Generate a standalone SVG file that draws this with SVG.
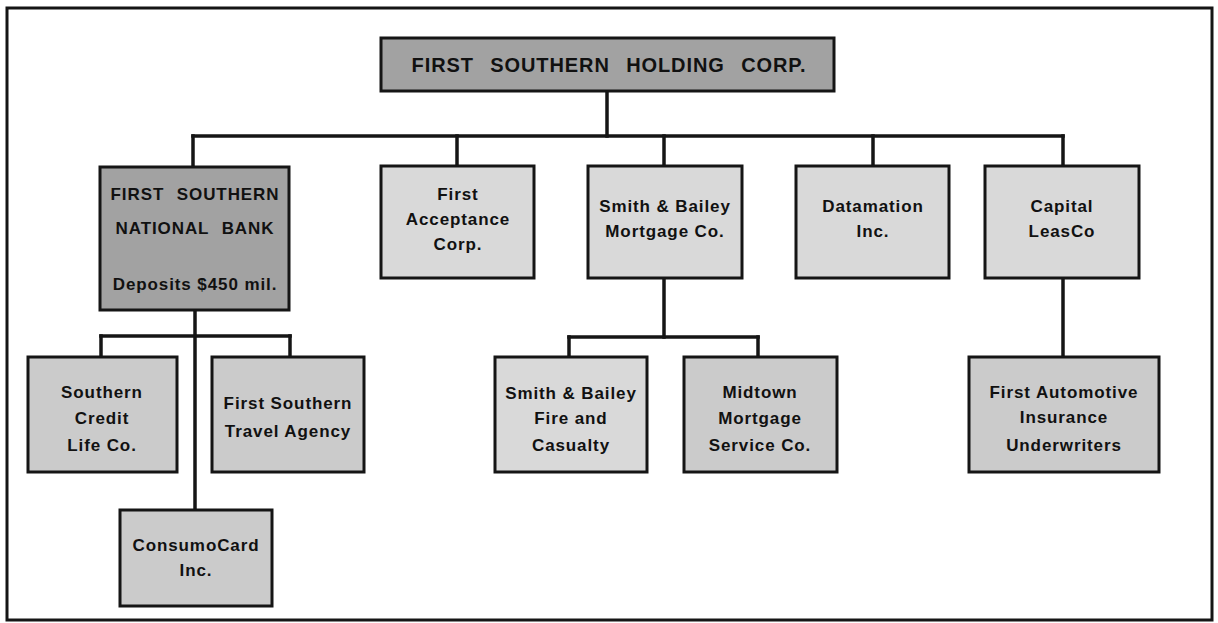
<svg xmlns="http://www.w3.org/2000/svg" width="1218" height="623" viewBox="0 0 1218 623">
<style>
.box{stroke:#151515;stroke-width:3}
.dark{fill:#a2a2a2}
.mid{fill:#cbcbcb}
.light{fill:#d9d9d9}
text{font-family:"Liberation Sans",Arial,sans-serif;font-weight:bold;font-size:17px;fill:#111111;text-anchor:middle;letter-spacing:0.9px}
.title{font-size:20px;letter-spacing:0.9px;word-spacing:10px}
.caps{word-spacing:7px}
.conn line{stroke:#151515;stroke-width:3.5;stroke-linecap:square}
</style>
<rect x="0" y="0" width="1218" height="623" fill="#ffffff"/>
<rect x="7" y="8" width="1205" height="612" fill="none" stroke="#151515" stroke-width="3"/>
<g id="connectors" class="conn">
<line x1="607" y1="91" x2="607" y2="136"/>
<line x1="193" y1="136" x2="1063" y2="136"/>
<line x1="193" y1="136" x2="193" y2="166"/>
<line x1="457" y1="136" x2="457" y2="166"/>
<line x1="664" y1="136" x2="664" y2="166"/>
<line x1="873" y1="136" x2="873" y2="166"/>
<line x1="1063" y1="136" x2="1063" y2="166"/>
<line x1="195" y1="310" x2="195" y2="510"/>
<line x1="101" y1="336" x2="290" y2="336"/>
<line x1="101" y1="336" x2="101" y2="357"/>
<line x1="290" y1="336" x2="290" y2="357"/>
<line x1="664" y1="278" x2="664" y2="337"/>
<line x1="569" y1="337" x2="758" y2="337"/>
<line x1="569" y1="337" x2="569" y2="357"/>
<line x1="758" y1="337" x2="758" y2="357"/>
<line x1="1063" y1="278" x2="1063" y2="357"/>
</g>
<g id="holding">
<rect class="box dark" x="381" y="38" width="453" height="53"/>
<text class="title" x="609" y="72">FIRST SOUTHERN HOLDING CORP.</text>
</g>
<g id="bank">
<rect class="box dark" x="100" y="167" width="189" height="143"/>
<text class="caps" x="195" y="200">FIRST SOUTHERN</text>
<text class="caps" x="195" y="234">NATIONAL BANK</text>
<text x="195" y="290">Deposits $450 mil.</text>
</g>
<g id="first-acceptance">
<rect class="box light" x="381" y="166" width="153" height="112"/>
<text x="458" y="200">First</text>
<text x="458" y="225">Acceptance</text>
<text x="458" y="250">Corp.</text>
</g>
<g id="smith-bailey-mortgage">
<rect class="box light" x="588" y="166" width="154" height="112"/>
<text x="665" y="212">Smith &amp; Bailey</text>
<text x="665" y="237">Mortgage Co.</text>
</g>
<g id="datamation">
<rect class="box light" x="796" y="166" width="153" height="112"/>
<text x="873" y="212">Datamation</text>
<text x="873" y="237">Inc.</text>
</g>
<g id="capital-leasco">
<rect class="box light" x="985" y="166" width="154" height="112"/>
<text x="1062" y="212">Capital</text>
<text x="1062" y="237">LeasCo</text>
</g>
<g id="southern-credit">
<rect class="box mid" x="28" y="357" width="149" height="115"/>
<text x="102" y="398">Southern</text>
<text x="102" y="424">Credit</text>
<text x="102" y="451">Life Co.</text>
</g>
<g id="travel-agency">
<rect class="box mid" x="212" y="357" width="152" height="115"/>
<text x="288" y="409">First Southern</text>
<text x="288" y="437">Travel Agency</text>
</g>
<g id="consumocard">
<rect class="box mid" x="120" y="510" width="152" height="96"/>
<text x="196" y="551">ConsumoCard</text>
<text x="196" y="576">Inc.</text>
</g>
<g id="smith-bailey-fire">
<rect class="box light" x="495" y="357" width="152" height="115"/>
<text x="571" y="399">Smith &amp; Bailey</text>
<text x="571" y="424">Fire and</text>
<text x="571" y="451">Casualty</text>
</g>
<g id="midtown">
<rect class="box mid" x="684" y="357" width="153" height="115"/>
<text x="760" y="398">Midtown</text>
<text x="760" y="424">Mortgage</text>
<text x="760" y="451">Service Co.</text>
</g>
<g id="first-automotive">
<rect class="box mid" x="969" y="357" width="190" height="115"/>
<text x="1064" y="398">First Automotive</text>
<text x="1064" y="423">Insurance</text>
<text x="1064" y="451">Underwriters</text>
</g>
</svg>
